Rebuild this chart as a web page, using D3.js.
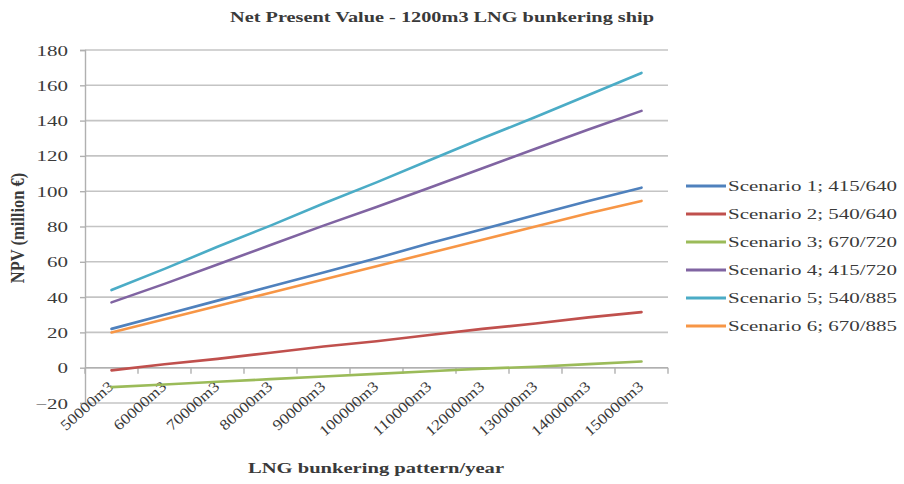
<!DOCTYPE html>
<html>
<head>
<meta charset="utf-8">
<script src="https://cdn.jsdelivr.net/npm/d3@7"></script>
<style>
  html, body { margin: 0; padding: 0; background: #fff; }
  svg { display: block; }
  text { font-family: "Liberation Serif", "Times New Roman", serif; fill: #3a3a3a; }
</style>
</head>
<body>
<svg id="chart" width="904" height="484"></svg>
<script>
const categories = ["50000m3","60000m3","70000m3","80000m3","90000m3","100000m3","110000m3","120000m3","130000m3","140000m3","150000m3"];
const seriesNames = ["Scenario 1; 415/640","Scenario 2; 540/640","Scenario 3; 670/720","Scenario 4; 415/720","Scenario 5; 540/885","Scenario 6; 670/885"];
const scenario1 = [22, 30, 38, 46, 54, 62, 70.5, 78.5, 86.5, 94.5, 102];
const scenario2 = [-1.5, 2, 5, 8.5, 12, 15, 18.5, 22, 25, 28.5, 31.5];
const scenario3 = [-11, -9.5, -8, -6.5, -5, -3.5, -2, -0.5, 0.5, 2, 3.5];
const scenario4 = [37, 47.5, 58.5, 69.5, 80.5, 91, 102, 113, 124, 135, 145.5];
const scenario5 = [44, 56, 68.5, 80.5, 93, 105, 117.5, 130, 142, 154.5, 167];
const scenario6 = [20, 27.5, 35, 42.5, 50, 57.5, 65, 72.5, 80, 87.5, 94.5];
const yTicks = [-20, 0, 20, 40, 60, 80, 100, 120, 140, 160, 180];
const colors = ["#4F81BD","#C0504D","#9BBB59","#8064A2","#4BACC6","#F79646"];
const title = "Net Present Value -  1200m3 LNG bunkering ship";
const xTitle = "LNG bunkering pattern/year";
const yTitle = "NPV (million €)";

const allSeries = [scenario1, scenario2, scenario3, scenario4, scenario5, scenario6];

const svg = d3.select("#chart");
const L = 85, R = 668, T = 50, B = 403;

const x = d3.scaleBand().domain(categories).range([L, R]);
const y = d3.scaleLinear().domain([-20, 180]).range([B, T]);

// gridlines
svg.append("g").selectAll("line").data(yTicks).join("line")
  .attr("x1", L).attr("x2", R)
  .attr("y1", d => y(d)).attr("y2", d => y(d))
  .attr("stroke", "#c4c4c4").attr("stroke-width", 1.6);

// y axis
const yAxis = svg.append("g").attr("transform", `translate(${L},0)`)
  .call(d3.axisLeft(y).tickValues(yTicks).tickSize(5).tickPadding(8).tickFormat(d3.format("d")));
yAxis.select(".domain").attr("stroke", "#b0b0b0").attr("stroke-width", 1.4);
yAxis.selectAll(".tick line").attr("stroke", "#b0b0b0").attr("stroke-width", 1.4);
yAxis.selectAll(".tick text")
  .attr("font-family", "Liberation Serif").attr("font-size", 15).attr("fill", "#333")
  .attr("x", null).attr("dy", null)
  .attr("transform", "translate(-17,5) scale(1.4,1)");

// x axis at zero
const xAxis = svg.append("g").attr("transform", `translate(0,${y(0)})`);
xAxis.append("line").attr("x1", L).attr("x2", R).attr("y1", 0).attr("y2", 0)
  .attr("stroke", "#b0b0b0").attr("stroke-width", 1.4);
const tickPos = categories.map(c => x(c)).concat([x(categories[categories.length - 1]) + x.bandwidth()]);
xAxis.selectAll("line.tk").data(tickPos).join("line").attr("class", "tk")
  .attr("x1", d => d).attr("x2", d => d).attr("y1", 0).attr("y2", 6)
  .attr("stroke", "#b0b0b0").attr("stroke-width", 1.4);
xAxis.selectAll("text").data(categories).join("text")
  .attr("text-anchor", "end")
  .attr("font-size", 15).attr("fill", "#333")
  .attr("transform", d => `translate(${x(d) + x.bandwidth() / 2 + 3},${20}) rotate(-42) scale(1.15,1)`)
  .text(d => d);

// lines
const line = d3.line()
  .x((d, i) => x(categories[i]) + x.bandwidth() / 2)
  .y(d => y(d));
svg.append("g").selectAll("path").data(allSeries).join("path")
  .attr("d", d => line(d))
  .attr("fill", "none")
  .attr("stroke", (d, i) => colors[i])
  .attr("stroke-width", 2.6)
  .attr("stroke-linecap", "round");

// title
svg.append("text")
  .attr("transform", `translate(442,22) scale(1.45,1)`)
  .attr("text-anchor", "middle").attr("font-weight", "bold").attr("font-size", 14)
  .attr("fill", "#111")
  .text(title);

// axis titles
svg.append("text")
  .attr("transform", `translate(376,473) scale(1.47,1)`)
  .attr("text-anchor", "middle").attr("font-weight", "bold").attr("font-size", 14)
  .attr("fill", "#111")
  .text(xTitle);
svg.append("text")
  .attr("transform", `translate(24,228) rotate(-90) scale(1.1,1.3)`)
  .attr("text-anchor", "middle").attr("font-weight", "bold").attr("font-size", 15)
  .attr("fill", "#111")
  .text(yTitle);

// legend
const leg = svg.append("g").attr("transform", "translate(686,186)");
const li = leg.selectAll("g").data(seriesNames).join("g")
  .attr("transform", (d, i) => `translate(0,${i * 28})`);
li.append("line").attr("x1", 0).attr("x2", 40).attr("y1", 0).attr("y2", 0)
  .attr("stroke", (d, i) => colors[i]).attr("stroke-width", 3);
li.append("text")
  .attr("transform", `translate(42,5) scale(1.4,1)`)
  .attr("font-size", 15).attr("fill", "#333")
  .text(d => d);
</script>
</body>
</html>
